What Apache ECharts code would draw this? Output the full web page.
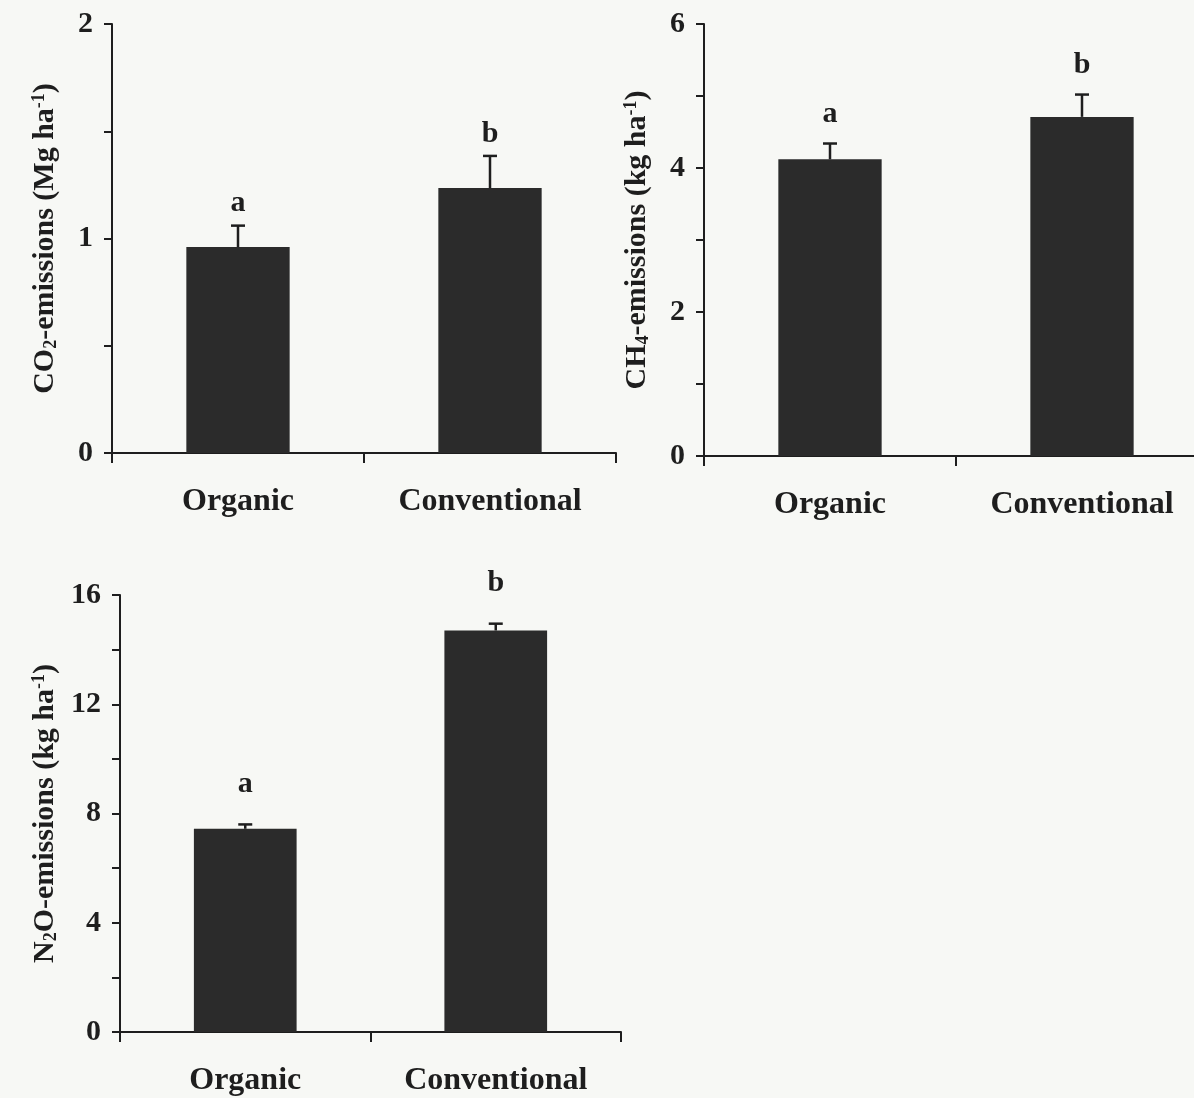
<!DOCTYPE html>
<html>
<head>
<meta charset="utf-8">
<script src="https://cdn.jsdelivr.net/npm/echarts@6/dist/echarts.min.js"></script>
<style>
html,body{margin:0;padding:0;background:#f7f8f5;overflow:hidden;width:1194px;height:1098px;}
#chart{width:1230px;height:1098px;}
</style>
</head>
<body>
<div id="chart"></div>
<script>
// ---- data ----
const categories = ['Organic', 'Conventional'];
const co2Values = [0.96, 1.235];
const co2Errors = [0.10, 0.15];
const co2Letters = ['a', 'b'];
const ch4Values = [4.12, 4.71];
const ch4Errors = [0.22, 0.31];
const ch4Letters = ['a', 'b'];
const n2oValues = [7.44, 14.70];
const n2oErrors = [0.16, 0.25];
const n2oLetters = ['a', 'b'];

const FONT = '"Liberation Serif", "Times New Roman", serif';
const INK = '#1e1e1e';
const BAR = '#2b2b2b';

const chart = echarts.init(document.getElementById('chart'));

const panels = [
  {grid:{left:112, top:24, width:504, height:429}, max:2, step:0.5, labelEvery:1,
   name:'CO{sub|2}-emissions (Mg ha{sup|-1})', nameGap:52, values:co2Values, errors:co2Errors, letters:co2Letters, letterGap:22},
  {grid:{left:704, top:24, width:504, height:432}, max:6, step:1, labelEvery:2,
   name:'CH{sub|4}-emissions (kg ha{sup|-1})', nameGap:52, values:ch4Values, errors:ch4Errors, letters:ch4Letters, letterGap:29},
  {grid:{left:120, top:595, width:501, height:437}, max:16, step:2, labelEvery:4,
   name:'N{sub|2}O-emissions (kg ha{sup|-1})', nameGap:60, values:n2oValues, errors:n2oErrors, letters:n2oLetters, letterGap:40}
];

const rich = {
  sub:{fontFamily:FONT, fontWeight:'bold', fontSize:18, color:INK, verticalAlign:'bottom', lineHeight:30, padding:[10,0,0,0]},
  sup:{fontFamily:FONT, fontWeight:'bold', fontSize:18, color:INK, verticalAlign:'top', lineHeight:30, padding:[0,0,12,0]}
};

const grids = [], xAxes = [], yAxes = [], series = [];
panels.forEach((p, i) => {
  grids.push(p.grid);
  xAxes.push({
    type:'category', gridIndex:i, data:categories,
    axisLine:{lineStyle:{color:INK, width:2}},
    axisTick:{show:true, interval:0, length:10, lineStyle:{color:INK, width:2}},
    axisLabel:{fontFamily:FONT, fontWeight:'bold', fontSize:32, color:INK, margin:33, interval:0}
  });
  yAxes.push({
    type:'value', gridIndex:i, min:0, max:p.max, interval:p.step,
    splitLine:{show:false},
    axisLine:{show:true, lineStyle:{color:INK, width:2}},
    axisTick:{show:true, length:8, lineStyle:{color:INK, width:2}},
    axisLabel:{fontFamily:FONT, fontWeight:'bold', fontSize:30, color:INK, margin:19,
      formatter: v => (Math.abs(v / p.labelEvery - Math.round(v / p.labelEvery)) < 1e-9 ? String(v) : '')},
    name:p.name, nameLocation:'middle', nameRotate:90, nameGap:p.nameGap,
    nameTextStyle:{fontFamily:FONT, fontWeight:'bold', fontSize:30, color:INK, rich:rich}
  });
  series.push({
    type:'bar', xAxisIndex:i, yAxisIndex:i, data:p.values, barWidth:'41%',
    itemStyle:{color:BAR}, silent:true
  });
  series.push({
    type:'custom', xAxisIndex:i, yAxisIndex:i,
    data:p.values.map((v, k) => [k, v, p.errors[k]]),
    renderItem:(params, api) => {
      const k = api.value(0), v = api.value(1), e = api.value(2);
      const base = api.coord([k, v]);
      const top = api.coord([k, v + e]);
      const cap = 7;
      return {type:'group', children:[
        {type:'line', shape:{x1:base[0], y1:base[1], x2:top[0], y2:top[1]}, style:{stroke:INK, lineWidth:2.5}},
        {type:'line', shape:{x1:top[0]-cap, y1:top[1], x2:top[0]+cap, y2:top[1]}, style:{stroke:INK, lineWidth:2.5}},
        {type:'text', x:top[0], y:top[1] - p.letterGap,
         style:{text:p.letters[params.dataIndex], fontFamily:FONT, fontWeight:'bold', fontSize:30, fill:INK, align:'center', verticalAlign:'middle'}}
      ]};
    },
    silent:true, z:5
  });
});

chart.setOption({
  backgroundColor:'#f7f8f5',
  animation:false,
  grid:grids, xAxis:xAxes, yAxis:yAxes, series:series
});
</script>
</body>
</html>
